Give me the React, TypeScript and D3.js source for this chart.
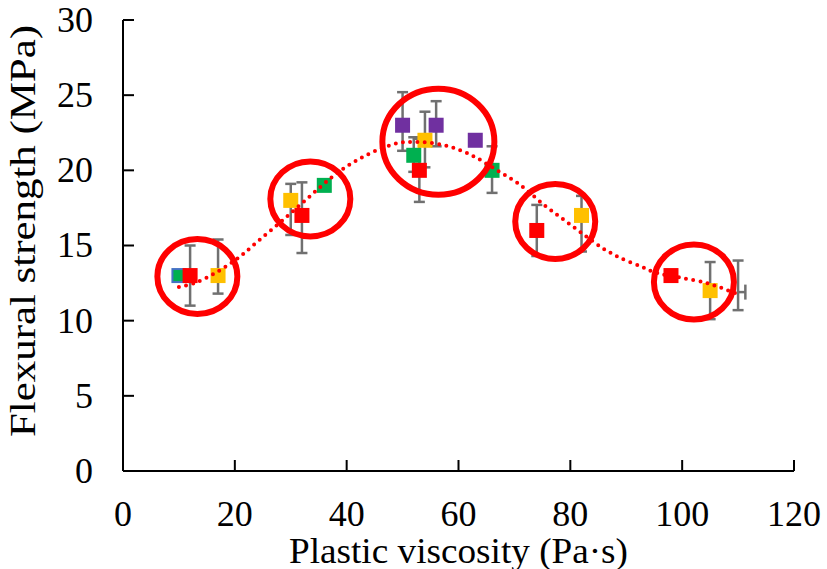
import React from "react";
import * as d3 from "d3";

// ---- data ----
const xTicks = [0, 20, 40, 60, 80, 100, 120];
const yTicks = [0, 5, 10, 15, 20, 25, 30];

const greenX = [10, 36, 52, 66];
const greenY = [13, 19, 21, 20];
const redX = [12, 32, 53, 74, 98];
const redY = [13, 17, 20, 16, 13];
const yellowX = [17, 30, 54, 82, 105];
const yellowY = [13, 18, 22, 17, 12];
const purpleX = [50, 56, 63];
const purpleY = [23, 23, 22];

// error bars: x, low, high
const errX = [12, 17, 30, 32, 50, 56, 54, 52, 53, 66, 74, 82, 105, 110];
const errLow = [11.0, 11.8, 15.7, 14.5, 21.3, 21.6, 20.2, 19.9, 17.9, 18.5, 14.3, 14.6, 10.1, 10.7];
const errHigh = [15.0, 15.4, 19.1, 19.2, 25.2, 24.6, 23.9, 22.2, 22.1, 21.6, 17.7, 18.3, 13.9, 14.0];
// horizontal error bar (extra point)
const hErrY = [11.9];
const hErrX0 = [110];
const hErrX1 = [111.3];

// polynomial trend line
const trendX = [10.0, 12.9, 16.8, 20.6, 24.0, 28.4, 32.9, 37.4, 41.0, 44.7, 49.2, 52.1, 55.1, 58.0, 60.6, 63.3, 67.1, 70.8, 75.3, 78.9, 82.5, 86.0, 88.6, 92.8, 95.5, 100.0, 104.3, 107.0, 109.8];
const trendY = [12.24, 12.51, 13.24, 14.17, 15.24, 16.63, 18.10, 19.56, 20.49, 21.22, 21.82, 21.89, 21.82, 21.62, 21.29, 20.82, 19.96, 19.10, 17.70, 16.70, 15.70, 14.77, 14.24, 13.57, 13.17, 12.84, 12.51, 12.18, 11.78];

// annotation circles (centres in data units)
const circleX = [13.3, 33.5, 56.4, 77.3, 102.1];
const circleY = [12.94, 18.1, 21.9, 16.6, 12.57];
const circleBig = [false, false, true, false, false];

const FONT = '"Liberation Serif", "DejaVu Serif", serif';

export default function App() {
  const W = 827;
  const H = 569;
  const x = d3.scaleLinear().domain([0, 120]).range([123, 794]);
  const y = d3.scaleLinear().domain([0, 30]).range([471, 20]);
  const ms = 15;
  const cap = 5.5;
  const errColor = "#707070";
  const ts = { fontFamily: FONT, fontSize: "36px" };

  const trend = d3
    .line<number>()
    .x((_, i) => x(trendX[i]))
    .y((d) => y(d))
    .curve(d3.curveCatmullRom)(trendY) as string;

  const squares = (xs: number[], ys: number[], fill: string, key: string) =>
    xs.map((v, i) => (
      <rect
        key={key + i}
        x={x(v) - ms / 2}
        y={y(ys[i]) - ms / 2}
        width={ms}
        height={ms}
        fill={fill}
      />
    ));

  return (
    <svg
      width={W}
      height={H}
      style={{ position: "absolute", left: 0, top: 0, background: "#fff", fontFamily: FONT }}
    >
      {/* axes */}
      <line x1={x(0)} x2={x(0)} y1={y(30)} y2={y(0)} stroke="#000" strokeWidth={2} />
      <line x1={x(0)} x2={x(120)} y1={y(0)} y2={y(0)} stroke="#000" strokeWidth={2} />
      {yTicks.map((t) => (
        <g key={"yt" + t}>
          <line x1={x(0)} x2={x(0) + 11} y1={y(t)} y2={y(t)} stroke="#000" strokeWidth={2} />
          <text x={93} y={y(t)} dy="0.33em" textAnchor="end" style={ts}>
            {t}
          </text>
        </g>
      ))}
      {xTicks.map((t) => (
        <g key={"xt" + t}>
          <line x1={x(t)} x2={x(t)} y1={y(0)} y2={y(0) - 11} stroke="#000" strokeWidth={2} />
          <text x={x(t)} y={526} textAnchor="middle" style={ts}>
            {t}
          </text>
        </g>
      ))}
      <text
        x={(x(0) + x(120)) / 2}
        y={563}
        textAnchor="middle"
        style={ts}
        textLength={339}
        lengthAdjust="spacingAndGlyphs"
      >
        Plastic viscosity (Pa·s)
      </text>
      <text
        transform={`translate(35,231) rotate(-90)`}
        textAnchor="middle"
        style={ts}
        textLength={412}
        lengthAdjust="spacingAndGlyphs"
      >
        Flexural strength (MPa)
      </text>

      {/* error bars */}
      {errX.map((v, i) => (
        <g key={"e" + i} stroke={errColor} strokeWidth={2.5}>
          <line x1={x(v)} x2={x(v)} y1={y(errLow[i])} y2={y(errHigh[i])} />
          <line x1={x(v) - cap} x2={x(v) + cap} y1={y(errLow[i])} y2={y(errLow[i])} />
          <line x1={x(v) - cap} x2={x(v) + cap} y1={y(errHigh[i])} y2={y(errHigh[i])} />
        </g>
      ))}
      {hErrY.map((v, i) => (
        <g key={"h" + i} stroke={errColor} strokeWidth={2.5}>
          <line x1={x(hErrX0[i])} x2={x(hErrX1[i])} y1={y(v)} y2={y(v)} />
          <line x1={x(hErrX1[i])} x2={x(hErrX1[i])} y1={y(v) - cap - 2} y2={y(v) + cap + 2} />
        </g>
      ))}

      {/* markers */}
      <rect
        x={x(greenX[0]) - ms / 2 + 1}
        y={y(greenY[0]) - ms / 2 + 1}
        width={ms - 2}
        height={ms - 2}
        fill="#00B050"
        stroke="#4472C4"
        strokeWidth={2}
      />
      {squares(greenX.slice(1), greenY.slice(1), "#00B050", "g")}
      {squares(purpleX, purpleY, "#7030A0", "p")}
      {squares(yellowX, yellowY, "#FFC000", "y")}
      {squares(redX, redY, "#FF0000", "r")}

      {/* trend */}
      <path
        d={trend}
        fill="none"
        stroke="#FF0000"
        strokeWidth={4}
        strokeDasharray="0 7.3"
        strokeLinecap="round"
      />

      {/* annotation circles */}
      {circleX.map((v, i) => (
        <ellipse
          key={"c" + i}
          cx={x(v)}
          cy={y(circleY[i])}
          rx={circleBig[i] ? 56 : 40}
          ry={circleBig[i] ? 53 : 37.5}
          fill="none"
          stroke="#FF0000"
          strokeWidth={6}
        />
      ))}
    </svg>
  );
}
